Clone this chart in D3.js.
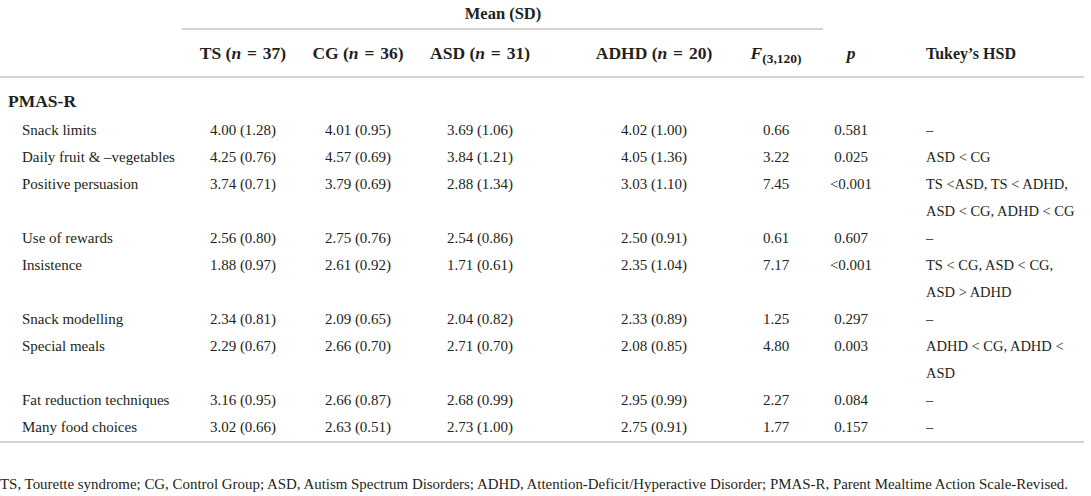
<!DOCTYPE html>
<html><head><meta charset="utf-8">
<script src="https://cdn.jsdelivr.net/npm/d3@7/dist/d3.min.js"></script>
<style>
html,body{margin:0;padding:0;background:#fff;}
svg{display:block;}
</style></head>
<body>
<svg id="chart" width="1091" height="496"></svg>
<script>
// ---- data ----
const groupTitle = "Mean (SD)";
const groups = ["TS", "CG", "ASD", "ADHD"];
const groupN = [37, 36, 31, 20];
const sectionLabel = "PMAS-R";
const categories = ["Snack limits", "Daily fruit & \u2013vegetables", "Positive persuasion", "Use of rewards",
  "Insistence", "Snack modelling", "Special meals", "Fat reduction techniques", "Many food choices"];
const tsValues   = [[4.00,1.28],[4.25,0.76],[3.74,0.71],[2.56,0.80],[1.88,0.97],[2.34,0.81],[2.29,0.67],[3.16,0.95],[3.02,0.66]];
const cgValues   = [[4.01,0.95],[4.57,0.69],[3.79,0.69],[2.75,0.76],[2.61,0.92],[2.09,0.65],[2.66,0.70],[2.66,0.87],[2.63,0.51]];
const asdValues  = [[3.69,1.06],[3.84,1.21],[2.88,1.34],[2.54,0.86],[1.71,0.61],[2.04,0.82],[2.71,0.70],[2.68,0.99],[2.73,1.00]];
const adhdValues = [[4.02,1.00],[4.05,1.36],[3.03,1.10],[2.50,0.91],[2.35,1.04],[2.33,0.89],[2.08,0.85],[2.95,0.99],[2.75,0.91]];
const fValues = [0.66, 3.22, 7.45, 0.61, 7.17, 1.25, 4.80, 2.27, 1.77];
const pValues = ["0.581", "0.025", "<0.001", "0.607", "<0.001", "0.297", "0.003", "0.084", "0.157"];
const tukey = [["\u2013"], ["ASD < CG"], ["TS <ASD, TS < ADHD,", "ASD < CG, ADHD < CG"], ["\u2013"],
  ["TS < CG, ASD < CG,", "ASD > ADHD"], ["\u2013"], ["ADHD < CG, ADHD <", "ASD"], ["\u2013"], ["\u2013"]];
const footnote = "TS, Tourette syndrome; CG, Control Group; ASD, Autism Spectrum Disorders; ADHD, Attention-Deficit/Hyperactive Disorder; PMAS-R, Parent Mealtime Action Scale-Revised.";

// ---- layout ----
const FONT = "'Liberation Serif', 'Times New Roman', Times, 'DejaVu Serif', serif";
const svg = d3.select("#chart").attr("font-family", FONT).attr("fill", "#231f20");
const colKeys = ["label","TS","CG","ASD","ADHD","F","p","tukey"];
const colX = d3.scaleOrdinal().domain(colKeys).range([22, 243, 358, 480, 654, 776, 851, 926]);
const lineColor = "#d4d4d4";

let idx = 0;
const rows = categories.map((c, i) => {
  const r = {label: c, i, line: idx};
  idx += tukey[i].length;
  return r;
});
const totalLines = idx;
const yLine = d3.scaleLinear().domain([0, totalLines - 1]).range([130, 427]);
const fmt = d3.format(".2f");
const fmtMS = v => `${fmt(v[0])} (${fmt(v[1])})`;
const groupVals = [tsValues, cgValues, asdValues, adhdValues];

// header
svg.append("text").attr("x", 503).attr("y", 19).attr("text-anchor", "middle")
  .attr("font-weight", "bold").attr("font-size", 16.5).text(groupTitle);
svg.append("line").attr("x1", 182).attr("x2", 823).attr("y1", 29).attr("y2", 29)
  .attr("stroke", lineColor).attr("stroke-width", 2);

const sp = "\u2004";
groups.forEach((g, gi) => {
  const t = svg.append("text").attr("x", colX(g)).attr("y", 59).attr("text-anchor", "middle")
    .attr("font-weight", "bold").attr("font-size", 17.5);
  t.append("tspan").text(g + " (");
  t.append("tspan").attr("font-style", "italic").text("n");
  t.append("tspan").text(sp + "=" + sp + groupN[gi] + ")");
});
const fh = svg.append("text").attr("x", colX("F")).attr("y", 59).attr("text-anchor", "middle")
  .attr("font-weight", "bold").attr("font-size", 17.5);
fh.append("tspan").attr("font-style", "italic").text("F");
fh.append("tspan").attr("font-size", 13.5).attr("dy", 4).text("(3,120)");
svg.append("text").attr("x", colX("p")).attr("y", 59).attr("text-anchor", "middle")
  .attr("font-weight", "bold").attr("font-style", "italic").attr("font-size", 17.5).text("p");
svg.append("text").attr("x", colX("tukey")).attr("y", 59)
  .attr("font-weight", "bold").attr("font-size", 16).text("Tukey\u2019s HSD");

svg.append("line").attr("x1", 0).attr("x2", 1084).attr("y1", 77).attr("y2", 77)
  .attr("stroke", lineColor).attr("stroke-width", 2);

svg.append("text").attr("x", 8).attr("y", 107).attr("font-weight", "bold").attr("font-size", 17.5).text(sectionLabel);

// rows
const body = svg.append("g").attr("font-size", 15);
const rowG = body.selectAll("g.row").data(rows).join("g").attr("class", "row");
rowG.append("text").attr("x", colX("label")).attr("y", d => yLine(d.line) + 5).text(d => d.label);
groups.forEach((g, gi) => {
  rowG.append("text").attr("x", colX(g)).attr("y", d => yLine(d.line) + 5).attr("text-anchor", "middle")
    .text(d => fmtMS(groupVals[gi][d.i]));
});
rowG.append("text").attr("x", colX("F")).attr("y", d => yLine(d.line) + 5).attr("text-anchor", "middle")
  .text(d => fmt(fValues[d.i]));
rowG.append("text").attr("x", colX("p")).attr("y", d => yLine(d.line) + 5).attr("text-anchor", "middle")
  .text(d => pValues[d.i]);
rowG.each(function(d) {
  tukey[d.i].forEach((s, k) => {
    d3.select(this).append("text").attr("x", colX("tukey")).attr("y", yLine(d.line + k) + 5)
      .attr("font-size", 14.5).text(s);
  });
});

svg.append("line").attr("x1", 0).attr("x2", 1084).attr("y1", 442).attr("y2", 442)
  .attr("stroke", lineColor).attr("stroke-width", 2);

const fn = svg.append("text").attr("x", 0).attr("y", 489).attr("font-size", 14.5).text(footnote);
fn.attr("textLength", 1068).attr("lengthAdjust", "spacingAndGlyphs");
</script>
</body></html>
